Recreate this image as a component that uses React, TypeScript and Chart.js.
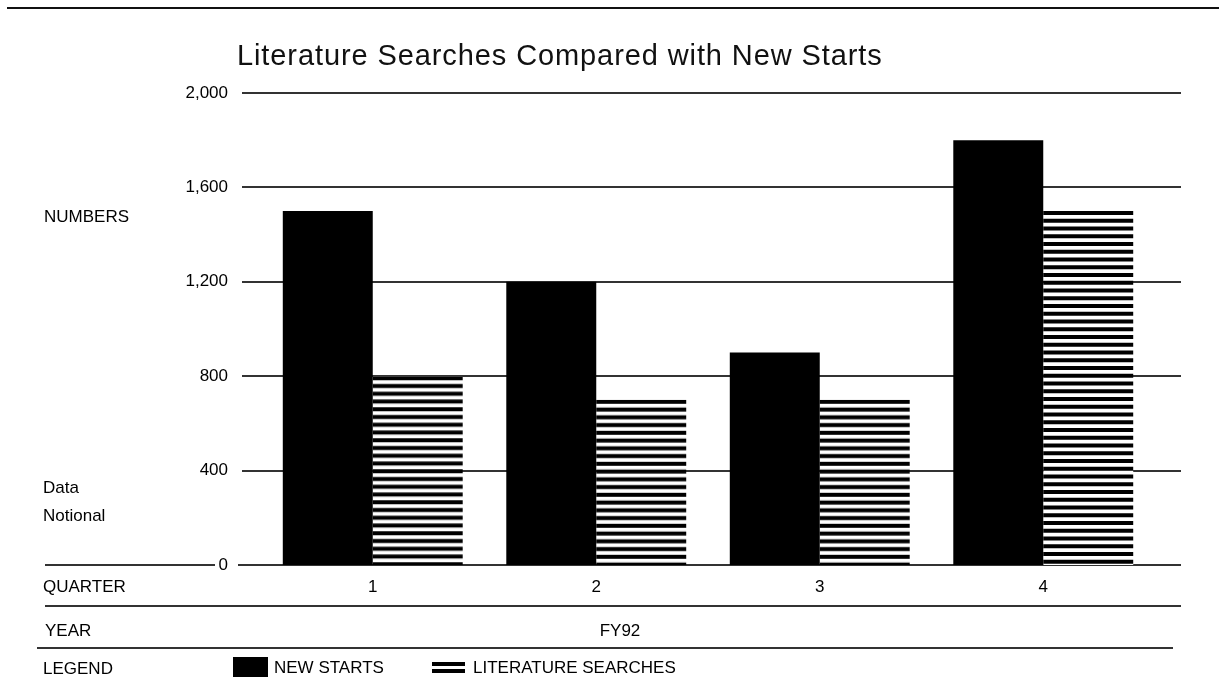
import React, { useEffect, useRef } from 'react';
import { Chart, registerables } from 'chart.js';

Chart.register(...registerables);

const TITLE = 'Literature Searches Compared with New Starts';
const QUARTERS = ['1', '2', '3', '4'];
const NEW_STARTS = [1500, 1200, 900, 1800];
const LIT_SEARCHES = [800, 700, 700, 1500];
const Y_TICKS = [0, 400, 800, 1200, 1600, 2000];
const SERIES_NAMES = ['NEW STARTS', 'LITERATURE SEARCHES'];
const YEAR_LABEL = 'FY92';
const SIDE_LABELS = ['NUMBERS', 'Data', 'Notional', 'QUARTER', 'YEAR', 'LEGEND'];

const FONT = '"Liberation Sans", Arial, sans-serif';
const LINE = '#333';

function makeStripePattern(ctx: CanvasRenderingContext2D, top: number) {
  const c = document.createElement('canvas');
  c.width = 4;
  c.height = 31;
  const g = c.getContext('2d')!;
  g.fillStyle = '#fff';
  g.fillRect(0, 0, 4, 31);
  g.fillStyle = '#000';
  for (let k = 0; k < 4; k++) g.fillRect(0, k * 7.75, 4, 4);
  const p = ctx.createPattern(c, 'repeat')!;
  p.setTransform(new DOMMatrix([1, 0, 0, 1, 0, top]));
  return p;
}

function hline(ctx: CanvasRenderingContext2D, x1: number, x2: number, y: number) {
  ctx.beginPath();
  ctx.moveTo(x1, y);
  ctx.lineTo(x2, y);
  ctx.stroke();
}

const decor = {
  id: 'decor',
  beforeDatasetsDraw(chart: any) {
    const ctx: CanvasRenderingContext2D = chart.ctx;
    const ys = chart.scales.y;
    ctx.save();
    ctx.strokeStyle = LINE;
    ctx.lineWidth = 2;
    Y_TICKS.forEach((v) => {
      const py = Math.round(ys.getPixelForValue(v));
      hline(ctx, v === 0 ? 238 : 242, 1181, py);
      if (v === 0) hline(ctx, 45, 215, py);
    });
    ctx.restore();
  },
  afterDraw(chart: any) {
    const ctx: CanvasRenderingContext2D = chart.ctx;
    ctx.save();
    // top rule
    ctx.strokeStyle = '#111';
    ctx.lineWidth = 2;
    hline(ctx, 7, 1219, 8);
    // table rules
    ctx.strokeStyle = LINE;
    hline(ctx, 45, 1181, 606);
    hline(ctx, 37, 1173, 648);
    // title
    ctx.fillStyle = '#111';
    ctx.textBaseline = 'middle';
    ctx.textAlign = 'left';
    ctx.font = `29px ${FONT}`;
    (ctx as any).letterSpacing = '0.9px';
    ctx.fillText(TITLE, 237, 57);
    (ctx as any).letterSpacing = '0px';
    // side labels
    ctx.font = `17px ${FONT}`;
    ctx.fillStyle = '#000';
    ctx.fillText(SIDE_LABELS[0], 44, 217);
    ctx.fillText(SIDE_LABELS[1], 43, 488);
    ctx.fillText(SIDE_LABELS[2], 43, 516);
    ctx.fillText(SIDE_LABELS[3], 43, 587);
    ctx.fillText(SIDE_LABELS[4], 45, 631);
    ctx.fillText(SIDE_LABELS[5], 43, 669);
    // year
    ctx.textAlign = 'center';
    ctx.fillText(YEAR_LABEL, 620, 631);
    // legend
    ctx.textAlign = 'left';
    ctx.fillStyle = '#000';
    ctx.fillRect(233, 657, 35, 20);
    ctx.fillText(SERIES_NAMES[0], 274, 668);
    ctx.fillRect(432, 662, 33, 4);
    ctx.fillRect(432, 669, 33, 4);
    ctx.fillText(SERIES_NAMES[1], 473, 668);
    ctx.restore();
  },
};

export default function App() {
  const ref = useRef<HTMLCanvasElement | null>(null);
  useEffect(() => {
    const canvas = ref.current!;
    const chart = new Chart(canvas, {
      type: 'bar',
      data: {
        labels: QUARTERS,
        datasets: [
          {
            label: SERIES_NAMES[0],
            data: NEW_STARTS,
            backgroundColor: '#000',
            borderWidth: 0,
            categoryPercentage: 0.805,
            barPercentage: 1.0,
          },
          {
            label: SERIES_NAMES[1],
            data: LIT_SEARCHES,
            backgroundColor: (c: any) => {
              const ys = c.chart.scales && c.chart.scales.y;
              if (c.type !== 'data' || !ys) return '#000';
              return makeStripePattern(c.chart.ctx, ys.getPixelForValue(c.raw));
            },
            borderWidth: 0,
            categoryPercentage: 0.805,
            barPercentage: 1.0,
          },
        ],
      },
      options: {
        animation: false,
        responsive: false,
        maintainAspectRatio: false,
        layout: { padding: { left: 0, right: 64, top: 93, bottom: 0 } },
        plugins: {
          legend: { display: false },
          title: { display: false },
          tooltip: { enabled: false },
        },
        scales: {
          x: {
            type: 'category',
            grid: { display: false, drawTicks: false },
            border: { display: false },
            ticks: { color: '#000', font: { family: FONT, size: 17 }, padding: 12, maxRotation: 0 },
            afterFit: (s: any) => {
              s.height = 128;
            },
          },
          y: {
            min: 0,
            max: 2000,
            grid: { display: false, drawTicks: false },
            border: { display: false },
            afterBuildTicks: (s: any) => {
              s.ticks = Y_TICKS.map((v) => ({ value: v }));
            },
            ticks: {
              color: '#000',
              font: { family: FONT, size: 17 },
              padding: 33,
              callback: (v: any) => Number(v).toLocaleString('en-US'),
            },
            afterFit: (s: any) => {
              s.width = 261;
            },
          },
        },
      },
      plugins: [decor],
    });
    return () => chart.destroy();
  }, []);
  return (
    <div style={{ position: 'fixed', left: 0, top: 0, width: 1219, height: 693, background: '#fff' }}>
      <canvas ref={ref} width={1219} height={693} style={{ display: 'block', width: 1219, height: 693 }} />
    </div>
  );
}
